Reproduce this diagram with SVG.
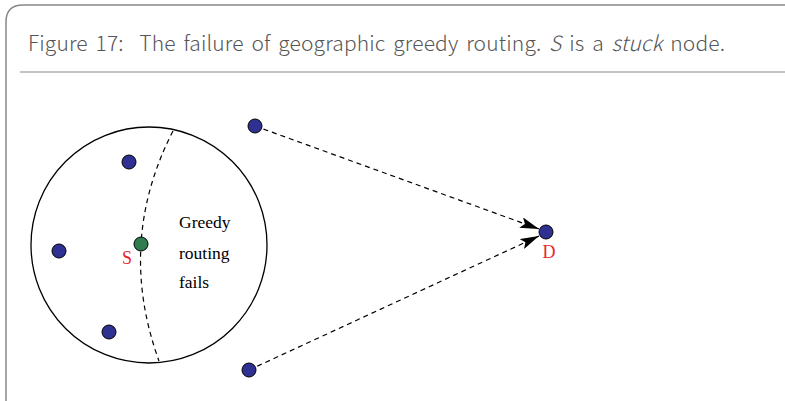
<svg xmlns="http://www.w3.org/2000/svg" width="785" height="401" viewBox="0 0 785 401">
<style>
.title{font-family:"Noto Sans CJK KR","Open Sans","DejaVu Sans",sans-serif;font-size:21px;font-weight:300;fill:#555;white-space:pre;word-spacing:3px}
.node{fill:#2E3192;stroke:#000;stroke-width:1}
.lbl{font-family:"Liberation Serif",serif;font-size:17.5px;fill:#000}
.red{font-family:"Liberation Serif",serif;font-size:18px;fill:#e8262a}
.dash{fill:none;stroke:#000;stroke-width:1.2;stroke-dasharray:5,4}
</style>
<defs>
<marker id="ah" markerWidth="19" markerHeight="11" refX="19" refY="5.5" orient="auto" markerUnits="userSpaceOnUse">
<path d="M0,0 L19,5.5 L0,11 L4,5.5 Z" fill="#000"/>
</marker>
</defs>
<rect width="785" height="401" fill="#fff"/>
<path d="M6,401 V22 Q6,5 23,5 H785" fill="none" stroke="#888" stroke-width="1.5"/>
<line x1="20" y1="72" x2="785" y2="72" stroke="#888" stroke-width="1.2"/>
<text class="title" xml:space="preserve" x="28" y="51" textLength="697" lengthAdjust="spacing">Figure 17:  The failure of geographic greedy routing. <tspan font-style="italic">S</tspan> is a <tspan font-style="italic">stuck</tspan> node.</text>
<circle cx="149" cy="245" r="118" fill="none" stroke="#000" stroke-width="1.3"/>
<g id="connectors">
<path class="dash" d="M173,131 Q116,242 159,361"/>
<line class="dash" x1="255" y1="126" x2="539" y2="229" marker-end="url(#ah)"/>
<line class="dash" x1="249" y1="370" x2="539" y2="236" marker-end="url(#ah)"/>
</g>
<g id="n1"><circle class="node" cx="129" cy="162" r="7"/></g>
<g id="n2"><circle class="node" cx="59" cy="251" r="7"/></g>
<g id="n3"><circle class="node" cx="109" cy="332" r="7"/></g>
<g id="nS"><circle cx="141" cy="244" r="7" fill="#2E7D4F" stroke="#000" stroke-width="1"/><text class="red" x="127" y="264" text-anchor="middle" font-size="18.5">S</text></g>
<g id="n4"><circle class="node" cx="255" cy="126" r="7"/></g>
<g id="n5"><circle class="node" cx="249" cy="370" r="7"/></g>
<g id="nD"><circle class="node" cx="546" cy="232" r="7"/><text class="red" x="549" y="258" text-anchor="middle">D</text></g>
<g id="label">
<text class="lbl" x="179" y="228">Greedy</text>
<text class="lbl" x="179" y="259">routing</text>
<text class="lbl" x="179" y="288">fails</text>
</g>
</svg>
